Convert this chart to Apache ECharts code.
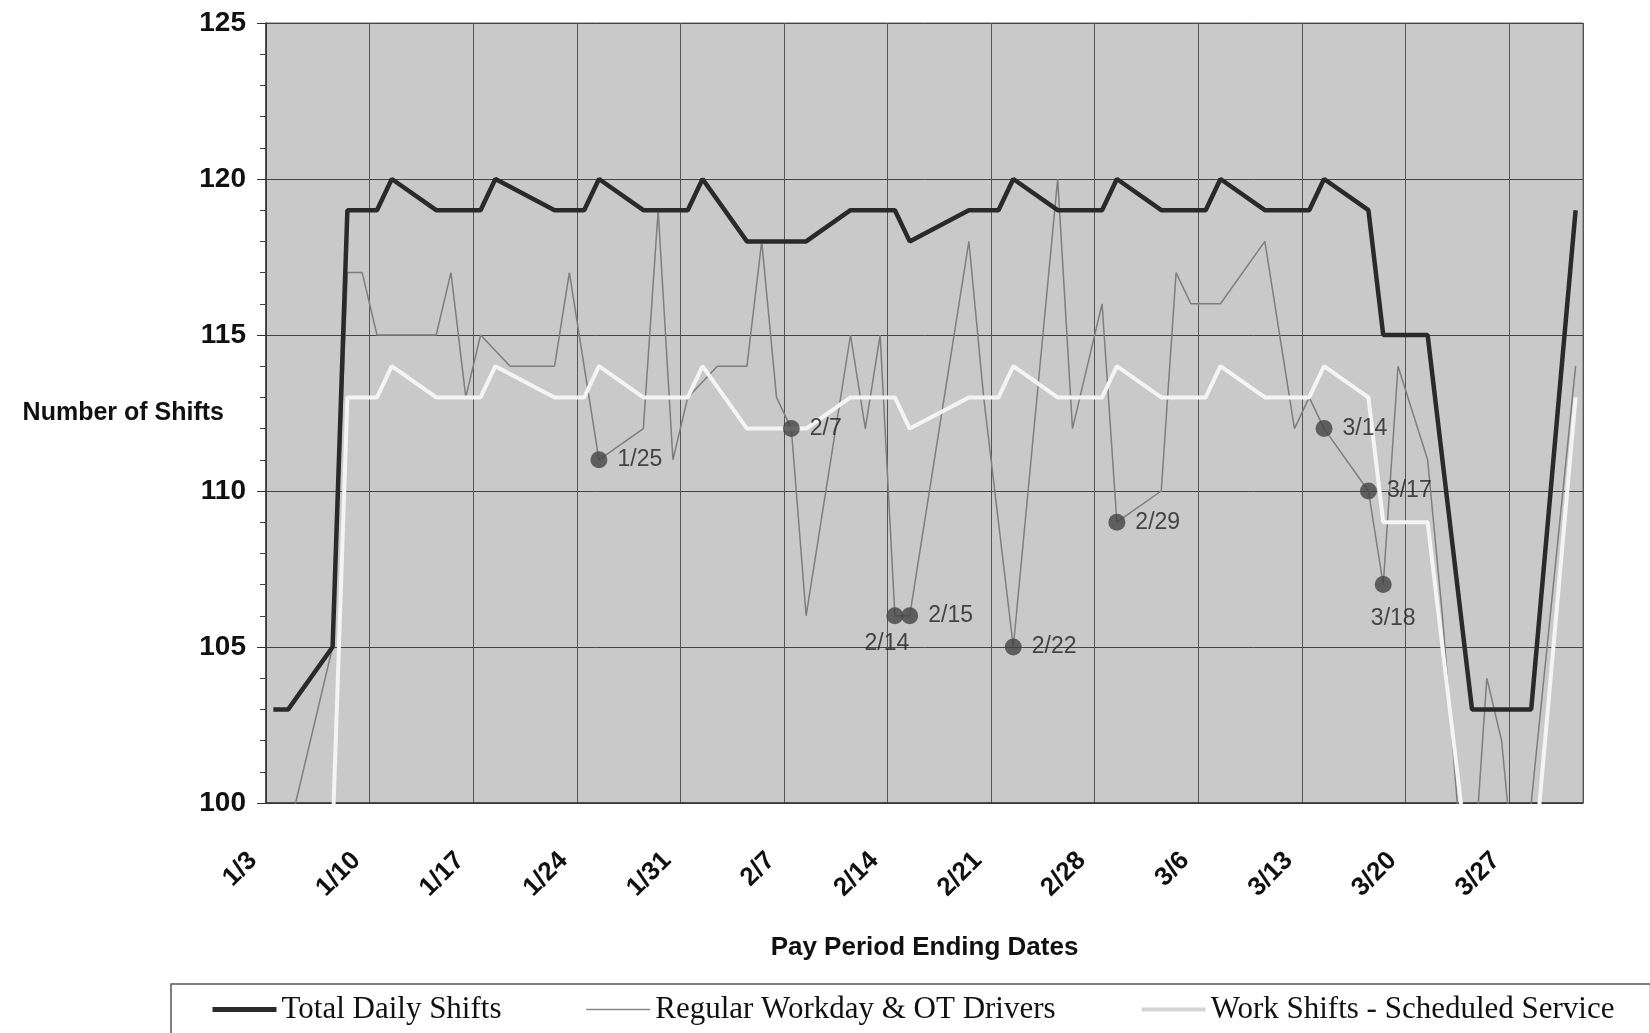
<!DOCTYPE html>
<html>
<head>
<meta charset="utf-8">
<title>Number of Shifts</title>
<script src="https://cdn.jsdelivr.net/npm/echarts@6/dist/echarts.min.js"></script>
<style>
    html, body { margin: 0; padding: 0; background: #fff; }
    #chart { width: 1650px; height: 1033px; }
</style>
</head>
<body>
<div id="chart"></div>
<script>
// one category per day, 1/3 .. 3/31 (2004)
const days = [];
for (let i = 0; i < 89; i++) {
    const dt = new Date(2004, 0, 3 + i);
    days.push((dt.getMonth() + 1) + '/' + dt.getDate());
}

// Total Daily Shifts
const totalDates = ['1/3', '1/4', '1/7', '1/8', '1/10', '1/11', '1/14', '1/17', '1/18', '1/22', '1/24', '1/25',
    '1/28', '1/31', '2/1', '2/4', '2/8', '2/11', '2/14', '2/15', '2/19', '2/21', '2/22', '2/25', '2/28', '2/29',
    '3/3', '3/6', '3/7', '3/10', '3/13', '3/14', '3/17', '3/18', '3/21', '3/24', '3/28', '3/31'];
const totalValues = [103, 103, 105, 119, 119, 120, 119, 119, 120, 119, 119, 120,
    119, 119, 120, 118, 118, 119, 119, 118, 119, 119, 120, 119, 119, 120,
    119, 119, 120, 119, 119, 120, 119, 115, 115, 103, 103, 119];

// Regular Workday & OT Drivers
const regularDates = ['1/4', '1/7', '1/8', '1/9', '1/10', '1/14', '1/15', '1/16', '1/17', '1/19', '1/22', '1/23',
    '1/25', '1/28', '1/29', '1/30', '1/31', '2/2', '2/4', '2/5', '2/6', '2/7', '2/8', '2/11', '2/12', '2/13',
    '2/14', '2/15', '2/19', '2/20', '2/22', '2/25', '2/26', '2/28', '2/29', '3/3', '3/4', '3/5', '3/7', '3/10',
    '3/12', '3/13', '3/14', '3/17', '3/18', '3/19', '3/21', '3/22', '3/23', '3/24', '3/25', '3/26', '3/27',
    '3/28', '3/31'];
const regularValues = [99, 105, 117, 117, 115, 115, 117, 113, 115, 114, 114, 117,
    111, 112, 119, 111, 113, 114, 114, 118, 113, 112, 106, 115, 112, 115,
    106, 106, 118, 113, 105, 120, 112, 116, 109, 110, 117, 116, 116, 118,
    112, 113, 112, 110, 107, 114, 111, 106, 100, 97, 104, 102, 97,
    100, 114];

// Work Shifts - Scheduled Service
const scheduledDates = ['1/3', '1/4', '1/7', '1/8', '1/10', '1/11', '1/14', '1/17', '1/18', '1/22', '1/24', '1/25',
    '1/28', '1/31', '2/1', '2/4', '2/8', '2/11', '2/14', '2/15', '2/19', '2/21', '2/22', '2/25', '2/28', '2/29',
    '3/3', '3/6', '3/7', '3/10', '3/13', '3/14', '3/17', '3/18', '3/21', '3/24', '3/28', '3/31'];
const scheduledValues = [97, 97, 99, 113, 113, 114, 113, 113, 114, 113, 113, 114,
    113, 113, 114, 112, 112, 113, 113, 112, 113, 113, 114, 113, 113, 114,
    113, 113, 114, 113, 113, 114, 113, 109, 109, 97, 97, 113];

// points marked with their date on the Regular line
const markedDates = ['1/25', '2/7', '2/14', '2/15', '2/22', '2/29', '3/14', '3/17', '3/18'];

const pairs = (dates, values) => dates.map((d, i) => [d, values[i]]);

// labels that sit under the dot instead of to the right
const labelBelow = {
    '2/14': { position: 'bottom', distance: 8, offset: [-8, 0] },
    '3/18': { position: 'bottom', distance: 14, offset: [10, 0] },
};

const markedData = markedDates.map(d => ({
    name: d,
    value: [d, regularValues[regularDates.indexOf(d)]],
    label: labelBelow[d] || {},
}));

const sans = 'Liberation Sans, Arial, sans-serif';
const serif = 'Liberation Serif, Times New Roman, serif';

const myChart = echarts.init(document.getElementById('chart'), null, { renderer: 'canvas' });

const option = {
    animation: false,
    backgroundColor: '#ffffff',
    grid: {
        left: 266,
        right: 67,
        top: 23,
        bottom: 230,
        show: true,
        backgroundColor: '#c9c9c9',
        borderColor: '#666',
        borderWidth: 1,
    },
    legend: {
        left: 171,
        top: 984,
        orient: 'horizontal',
        itemWidth: 64,
        itemHeight: 6,
        itemGap: 84,
        padding: [10, 36, 14, 39],
        borderColor: '#555',
        borderWidth: 1.5,
        itemStyle: { opacity: 0 },
        textStyle: { fontFamily: serif, fontSize: 31, color: '#111' },
        data: [
            { name: 'Total Daily Shifts', lineStyle: { color: '#2a2a2a', width: 5 } },
            { name: 'Regular Workday & OT Drivers', lineStyle: { color: '#8a8a8a', width: 1.5 } },
            { name: 'Work Shifts - Scheduled Service', lineStyle: { color: '#d4d4d4', width: 4 } },
        ],
    },
    xAxis: [
        {
            type: 'category',
            data: days,
            boundaryGap: true,
            name: 'Pay Period Ending Dates',
            nameLocation: 'middle',
            nameGap: 132,
            nameMoveOverlap: false,
            nameTextStyle: { fontFamily: sans, fontSize: 26, fontWeight: 'bold', color: '#111' },
            axisLine: { lineStyle: { color: '#333', width: 1.5 } },
            axisTick: { interval: 0, inside: true, length: 5, lineStyle: { color: '#555' } },
            axisLabel: {
                interval: 6,
                rotate: 45,
                margin: 33,
                padding: [0, 29, 0, 0],
                fontFamily: sans,
                fontSize: 26,
                fontWeight: 'bold',
                color: '#111',
            },
            splitLine: { show: true, interval: 6, lineStyle: { color: '#555', width: 1 } },
        },
        {
            // longer weekly ticks below the axis
            type: 'category',
            data: days,
            boundaryGap: true,
            position: 'bottom',
            axisLine: { show: false },
            axisTick: { interval: 6, length: 10, lineStyle: { color: '#444' } },
            axisLabel: { show: false },
            splitLine: { show: false },
        },
    ],
    yAxis: {
        type: 'value',
        min: 100,
        max: 125,
        interval: 5,
        name: 'Number of Shifts',
        nameLocation: 'middle',
        nameRotate: 0,
        nameGap: 42,
        nameMoveOverlap: false,
        nameTextStyle: { fontFamily: sans, fontSize: 25, fontWeight: 'bold', color: '#111' },
        axisLine: { show: true, lineStyle: { color: '#333', width: 1.5 } },
        axisTick: { show: true, length: 9, lineStyle: { color: '#333' } },
        minorTick: { show: true, splitNumber: 5, length: 6, lineStyle: { color: '#444' } },
        axisLabel: { margin: 20, fontFamily: sans, fontSize: 28, fontWeight: 'bold', color: '#111' },
        splitLine: { show: true, lineStyle: { color: '#444', width: 1 } },
    },
    series: [
        {
            name: 'Regular Workday & OT Drivers',
            type: 'line',
            symbol: 'none',
            data: pairs(regularDates, regularValues),
            lineStyle: { color: '#7e7e7e', width: 1.5 },
            itemStyle: { color: '#7e7e7e' },
        },
        {
            name: 'Work Shifts - Scheduled Service',
            type: 'line',
            symbol: 'none',
            data: pairs(scheduledDates, scheduledValues),
            lineStyle: { color: '#f4f4f4', width: 4 },
            itemStyle: { color: '#f4f4f4' },
        },
        {
            name: 'Total Daily Shifts',
            type: 'line',
            symbol: 'none',
            data: pairs(totalDates, totalValues),
            lineStyle: { color: '#2a2a2a', width: 4.5 },
            itemStyle: { color: '#2a2a2a' },
        },
        {
            name: 'marked',
            type: 'scatter',
            symbolSize: 17,
            data: markedData,
            itemStyle: { color: '#444' },
            label: {
                show: true,
                position: 'right',
                distance: 10,
                formatter: p => p.name,
                fontFamily: sans,
                fontSize: 23,
                color: '#222',
            },
            z: 5,
        },
    ],
};

myChart.setOption(option);
window.addEventListener('resize', () => {
    myChart.resize();
});
</script>
</body>
</html>
